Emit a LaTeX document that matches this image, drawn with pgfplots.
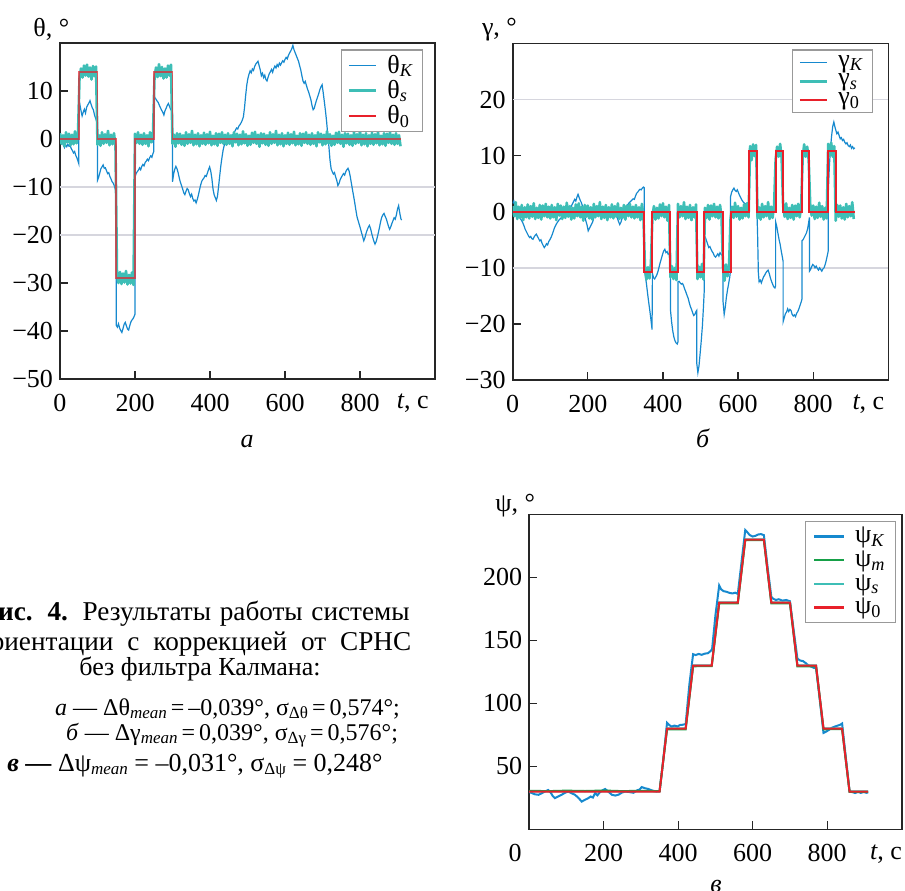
\documentclass[border=0pt]{standalone}
\usepackage{fontspec}
\setmainfont{Liberation Serif}
\usepackage{pgfplots}
\pgfplotsset{compat=1.18}

\definecolor{cblue}{RGB}{22,137,206}
\definecolor{cteal}{RGB}{62,190,182}
\definecolor{cred}{RGB}{232,32,42}
\definecolor{cgreen}{RGB}{22,160,72}
\definecolor{cgrid}{RGB}{214,214,222}
\newcommand\fs{\fontsize{13}{15}\selectfont}
\newcommand\tlab{\textit{t}, с}
\newcommand\sub[1]{\raisebox{-1.6pt}{\fontsize{8.5}{9}\selectfont #1}}

\pgfplotsset{
  panel/.style={
    scale only axis, anchor=south west, clip mode=individual, no marks,
    xmin=0, xmax=1000,
    axis line style={black!85, line width=0.8pt},
    tick align=inside, tick pos=left,
    major tick length=4pt,
    tick style={black!85, line width=0.6pt},
    tick label style={font=\fs},
    xticklabel style={yshift=-4pt},
    xtick={0,200,400,600,800},
    xticklabels={0,200,400,600,800},
    legend cell align=left,
    legend style={draw=black!40, line width=0.6pt, fill=white, font=\fs,
      inner xsep=3pt, inner ysep=1pt, row sep=-1pt, nodes={inner sep=1.5pt},
      /tikz/every odd column/.append style={column sep=3.5pt}},
    legend image code/.code={\draw[##1] (0pt,0pt) -- (13.5pt,0pt);},
  },
  noise/.style={cteal, line width=1.3pt, line join=round, forget plot},
}

\begin{document}
\begin{tikzpicture}[font=\fs]
\useasboundingbox (0,0) rectangle (452.5pt,-445pt);
\clip (0,0) rectangle (452.5pt,-445pt);

% ---------- a: theta ----------
\begin{axis}[panel, at={(30pt,-189.5pt)}, width=187.5pt, height=168pt,
  ymin=-50, ymax=20, ytick={-50,-40,-30,-20,-10,0,10},
  yticklabels={−50,−40,−30,−20,−10,0,10},
  extra x ticks={941}, extra x tick labels={\tlab},
  extra x tick style={major tick length=0pt},
  extra y ticks={-20,-10}, extra y tick labels={},
  extra y tick style={grid=major, major tick length=0pt, major grid style={cgrid, line width=0.8pt}},
  legend style={at={(0.969,0.981)}, anchor=north east}]
\addlegendimage{cblue, line width=0.5pt}\addlegendentry{θ\textsubscript{\textit{K}}}
\addlegendimage{cteal, line width=1.4pt}\addlegendentry{θ\textsubscript{\textit{s}}}
\addlegendimage{cred, line width=1pt}\addlegendentry{θ\textsubscript{0}}
\addplot[cblue, line width=0.6pt, forget plot] coordinates {
(0,-0.5)(3,-0.9)(6,-0.6)(9,-1.3)(12,-1.8)(15,-1.2)(18,-1.6)(21,-1.1)(24,-1.5)(27,-1.3)(30,-2.0)(33,-2.4)(36,-2.9)(39,-2.6)(42,-3.4)(45,-3.9)(48,-4.6)(50,-5.1)
(50,8.4)(53,7.2)(56,5.9)(59,4.8)(62,5.6)(65,6.2)(68,5.4)(71,6.6)(74,7.1)(77,7.5)(80,8.0)(83,7.2)(86,6.5)(89,6.1)(92,5.0)(95,4.3)(98,3.7)(100,3.5)
(100,-8.6)(103,-8.0)(106,-7.1)(109,-6.2)(112,-5.8)(115,-5.4)(118,-6.1)(121,-6.0)(124,-6.6)(127,-7.2)(130,-7.0)(133,-7.8)(136,-8.3)(139,-8.9)(142,-9.2)(145,-9.8)(148,-10.6)(150,-11.3)
(150,-38.8)(153,-39.2)(156,-38.5)(159,-39.4)(162,-39.9)(165,-40.3)(168,-39.5)(171,-38.6)(174,-38.2)(177,-38.9)(180,-39.6)(183,-39.8)(186,-38.9)(189,-38.1)(192,-37.7)(195,-37.4)(198,-36.9)(200,-36.5)
(200,-7.9)(203,-7.2)(206,-6.8)(209,-6.5)(212,-6.0)(215,-6.4)(218,-5.7)(221,-5.3)(224,-5.6)(227,-4.9)(230,-4.6)(233,-4.2)(236,-4.5)(239,-3.9)(242,-3.5)(245,-3.8)(248,-3.0)(250,-2.6)
(250,9.2)(253,8.6)(256,8.3)(259,7.9)(262,7.6)(265,7.0)(268,6.5)(271,6.0)(274,5.6)(277,5.0)(280,5.9)(283,6.4)(286,7.0)(289,7.4)(292,6.8)(295,6.2)(298,5.8)(300,5.4)
(300,-8.9)(303,-7.3)(306,-6.3)(309,-5.7)(312,-6.2)(315,-7.0)(318,-8.1)(321,-9.0)(324,-9.7)(327,-10.4)(330,-11.2)(333,-11.6)(336,-10.9)(339,-10.3)(342,-10.6)(345,-11.4)(348,-12.0)(351,-11.5)(354,-12.4)(357,-12.9)(360,-12.7)(363,-13.3)(366,-12.6)(369,-11.7)(372,-10.6)(375,-9.6)(378,-8.8)(381,-8.4)(384,-8.1)(387,-7.6)(390,-7.8)(393,-7.1)(396,-6.4)(399,-5.8)
(402,-6.7)(405,-8.2)(408,-10.4)(411,-11.6)(414,-12.2)(417,-12.8)(420,-11.9)(423,-9.8)(426,-7.6)(429,-5.5)(432,-3.8)(435,-2.3)(438,-1.3)(441,-0.9)(444,-0.6)(447,-0.3)(450,0.1)(453,-0.1)(456,0.4)(459,0.7)(462,1.0)(465,1.4)(468,1.9)(471,2.3)(474,2.1)(477,2.7)(480,3.0)(483,3.4)(486,3.9)(489,4.6)(492,6.5)(495,9.0)(498,11.2)
(501,12.6)(504,13.5)(507,14.2)(510,13.8)(513,14.6)(516,14.3)(519,15.1)(522,15.6)(525,15.9)(528,16.2)(531,15.3)(534,14.4)(537,13.2)(540,13.7)(543,12.8)(546,13.3)(549,12.4)(552,12.1)(555,12.9)(558,13.6)(561,14.0)(564,14.5)(567,13.9)(570,14.7)(573,15.2)(576,14.8)(579,15.5)(582,15.1)(585,15.8)(588,15.4)(591,15.9)(594,16.3)(597,16.0)
(600,16.6)(603,17.0)(606,16.7)(609,17.4)(612,17.9)(615,18.3)(618,18.8)(621,19.5)(624,18.6)(627,18.0)(630,17.4)(633,16.8)(636,16.2)(639,15.3)(642,14.4)(645,13.2)(648,12.1)(651,11.6)(654,12.0)(657,11.2)(660,10.4)(663,9.8)(666,9.0)(669,8.2)(672,7.0)(675,6.1)(678,6.4)(681,7.3)(684,8.1)(687,8.8)(690,9.5)(693,10.3)(696,10.9)(699,11.3)
(702,9.6)(705,7.7)(708,5.8)(711,3.6)(714,0.9)(717,-1.5)(720,-4.4)(723,-6.2)(726,-6.8)(729,-7.3)(732,-7.0)(735,-7.9)(738,-8.6)(741,-9.7)(744,-9.3)(747,-8.5)(750,-8.0)(753,-7.6)(756,-7.2)(759,-7.5)(762,-6.8)(765,-6.4)(768,-6.1)(771,-6.7)(774,-7.8)(777,-9.2)(780,-10.6)(783,-11.9)(786,-13.3)(789,-14.8)(792,-16.2)(795,-17.0)(798,-17.8)
(801,-18.6)(804,-19.5)(807,-20.3)(810,-21.2)(813,-20.6)(816,-19.7)(819,-19.0)(822,-18.4)(825,-18.0)(828,-18.6)(831,-19.6)(834,-20.5)(837,-21.3)(840,-21.9)(843,-21.4)(846,-20.5)(849,-19.5)(852,-18.4)(855,-17.2)(858,-16.3)(861,-15.8)(864,-15.5)(867,-16.1)(870,-16.6)(873,-17.4)(876,-18.2)(879,-18.8)(882,-18.3)(885,-17.6)(888,-17.0)(891,-16.4)(894,-16.7)(897,-15.8)(900,-14.6)(903,-13.9)(906,-15.4)(909,-16.6)(911,-16.9)
};
\addplot[noise] coordinates {
(0,1.2)(4,-1.0)(8,0.8)(12,-1.5)(16,1.4)(20,-0.7)(24,1.1)(28,-1.3)(32,0.9)(36,-1.1)(40,1.6)(44,-0.9)(48,1.0)
(52,12.6)(56,14.7)(60,12.8)(64,15.3)(68,13.2)(72,15.5)(76,13.0)(80,14.9)(84,12.4)(88,15.2)(92,13.1)(96,15.1)
(100,-1.2)(104,0.8)(108,-1.4)(112,1.4)(116,-1.0)(120,1.0)(124,-0.8)(128,1.7)(132,-1.3)(136,0.9)(140,-1.1)(144,1.2)(148,-1.5)
(152,-28.2)(156,-30.0)(160,-27.7)(164,-30.2)(168,-28.0)(172,-29.9)(176,-27.5)(180,-30.3)(184,-28.3)(188,-30.1)(192,-27.8)(196,-30.4)
(200,1.1)(204,-0.8)(208,1.4)(212,-1.0)(216,0.9)(220,-1.2)(224,1.2)(228,-1.0)(232,0.8)(236,-1.5)(240,1.4)(244,-0.7)(248,1.1)
(252,12.7)(256,14.9)(260,12.9)(264,15.6)(268,13.1)(272,15.0)(276,12.6)(280,14.7)(284,12.8)(288,15.3)(292,13.2)(296,15.5)
(300,-1.0)(304,0.9)(308,-1.6)(312,1.2)(316,-0.9)(320,1.1)(324,-1.2)(328,0.8)(332,-1.4)(336,1.4)(340,-1.0)(344,1.0)(348,-0.8)(352,1.7)(356,-1.3)(360,0.9)(364,-1.1)(368,1.2)(372,-1.5)(376,0.8)(380,-1.0)(384,1.3)(388,-1.2)(392,1.0)(396,-0.9)(400,1.5)(404,-1.3)(408,0.7)(412,-1.1)(416,1.2)(420,-1.4)(424,1.1)(428,-0.8)(432,1.4)(436,-1.0)(440,0.9)(444,-1.2)
(448,1.2)(452,-1.0)(456,0.8)(460,-1.5)(464,1.4)(468,-0.7)(472,1.1)(476,-1.3)(480,0.9)(484,-1.1)(488,1.6)(492,-0.9)(496,1.0)(500,-1.4)(504,0.7)(508,-1.2)(512,1.3)(516,-0.8)(520,1.5)(524,-1.0)(528,0.9)(532,-1.6)(536,1.2)(540,-0.9)(544,1.1)(548,-1.2)(552,0.8)(556,-1.4)(560,1.4)(564,-1.0)(568,1.0)(572,-0.8)(576,1.7)(580,-1.3)(584,0.9)(588,-1.1)(592,1.2)(596,-1.5)(600,0.8)(604,-1.0)(608,1.3)(612,-1.2)(616,1.0)(620,-0.9)(624,1.5)(628,-1.3)(632,0.7)(636,-1.1)(640,1.2)(644,-1.4)(648,1.1)(652,-0.8)(656,1.4)(660,-1.0)(664,0.9)(668,-1.2)
(672,1.2)(676,-1.0)(680,0.8)(684,-1.5)(688,1.4)(692,-0.7)(696,1.1)(700,-1.3)(704,0.9)(708,-1.1)(712,1.6)(716,-0.9)(720,1.0)(724,-1.4)(728,0.7)(732,-1.2)(736,1.3)(740,-0.8)(744,1.5)(748,-1.0)(752,0.9)(756,-1.6)(760,1.2)(764,-0.9)(768,1.1)(772,-1.2)(776,0.8)(780,-1.4)(784,1.4)(788,-1.0)(792,1.0)(796,-0.8)(800,1.7)(804,-1.3)(808,0.9)(812,-1.1)(816,1.2)(820,-1.5)(824,0.8)(828,-1.0)(832,1.3)(836,-1.2)(840,1.0)(844,-0.9)(848,1.5)(852,-1.3)(856,0.7)(860,-1.1)(864,1.2)(868,-1.4)(872,1.1)(876,-0.8)(880,1.4)(884,-1.0)(888,0.9)(892,-1.2)
(896,1.2)(900,-1.0)(904,0.8)(908,-1.5)
};
\addplot[cred, line width=0.8pt, opacity=0.7, forget plot] coordinates {
(0,0)(50,0)(50,14)(100,14)(100,0)(150,0)(150,-29)(200,-29)(200,0)(250,0)(250,14)(300,14)(300,0)(910,0)
};
\end{axis}

% ---------- b: gamma ----------
\begin{axis}[panel, at={(256.35pt,-190pt)}, width=187.8pt, height=168.3pt,
  ymin=-30, ymax=30, ytick={-30,-20,-10,0,10,20},
  yticklabels={−30,−20,−10,0,10,20},
  extra x ticks={947}, extra x tick labels={\tlab},
  extra x tick style={major tick length=0pt},
  extra y ticks={-10,20}, extra y tick labels={},
  extra y tick style={grid=major, major tick length=0pt, major grid style={cgrid, line width=0.8pt}},
  legend style={at={(0.96,0.982)}, anchor=north east}]
\addlegendimage{cblue, line width=0.5pt}\addlegendentry{γ\textsubscript{\textit{K}}}
\addlegendimage{cteal, line width=1.4pt}\addlegendentry{γ\textsubscript{\textit{s}}}
\addlegendimage{cred, line width=1pt}\addlegendentry{γ\textsubscript{0}}
\addplot[cblue, line width=0.6pt, forget plot] coordinates {
(0,1.5)(3,1.9)(6,1.0)(9,0.6)(12,0.1)(15,-0.5)(18,-0.9)(21,-1.3)(24,-1.6)(27,-2.0)(30,-2.5)(33,-3.1)(36,-3.5)(39,-3.9)(42,-4.3)(45,-4.6)(48,-4.4)(51,-4.8)(54,-4.9)(57,-4.5)(60,-4.2)(63,-4.0)(66,-4.4)(69,-4.8)(72,-5.2)(75,-5.0)(78,-5.6)(81,-6.0)(84,-6.4)(87,-6.1)(90,-5.7)(93,-5.9)(96,-5.3)(99,-5.0)
(102,-4.6)(105,-4.1)(108,-3.5)(111,-2.9)(114,-2.5)(117,-2.1)(120,-1.8)(123,-1.5)(126,-1.3)(129,-1.1)(132,-0.9)(135,-1.0)(138,-0.7)(141,-0.8)(144,-0.4)(147,-0.1)(150,0.3)(153,0.6)(156,1.0)(159,1.4)(162,1.8)(165,2.2)(168,1.9)(171,2.6)(174,3.1)(177,2.5)(180,2.0)(183,1.6)(186,1.0)(189,0.2)(192,-0.9)(195,-1.7)(198,-2.4)
(201,-3.4)(204,-3.0)(207,-2.6)(210,-2.2)(213,-1.8)(216,-1.1)(219,-0.4)(222,-0.2)(225,-0.6)(228,-0.3)(231,-0.5)(234,-0.8)(237,-0.4)(240,-0.2)(243,0.2)(246,0.5)(249,0.8)(252,0.6)(255,0.7)(258,0.3)(261,0.1)(264,-0.2)(267,-0.4)(270,-0.3)(273,-0.2)(276,-0.6)(279,-1.2)(282,-1.8)(285,-2.3)(288,-1.9)(291,-1.2)(294,-0.5)(297,-0.2)
(300,0.3)(303,0.8)(306,1.2)(309,1.5)(312,1.7)(315,1.9)(318,2.1)(321,2.3)(324,2.2)(327,2.8)(330,3.3)(333,3.5)(336,3.8)(339,4.0)(342,3.9)(345,4.2)(348,4.4)(350,4.3)
(350,-10.0)(353,-11.4)(356,-12.8)(359,-14.5)(362,-16.1)(365,-17.6)(368,-19.2)(371,-21.0)(372,-11.0)
(375,-11.8)(378,-12.0)(381,-11.6)(384,-11.2)(387,-10.6)(390,-9.8)(393,-9.0)(396,-8.3)(399,-7.6)(402,-7.0)(405,-6.7)(408,-7.3)(411,-7.1)(414,-7.6)(417,-7.4)(420,-7.8)
(420,-17.5)(423,-19.6)(426,-21.2)(429,-22.3)(432,-23.0)(435,-23.4)(438,-23.6)(440,-23.2)
(440,-12.5)(443,-12.4)(446,-12.7)(449,-12.9)(452,-12.8)(455,-13.2)(458,-13.8)(461,-14.3)(464,-14.9)(467,-15.4)(470,-16.2)(473,-16.9)(476,-17.4)(479,-18.0)(482,-18.5)(485,-18.3)(488,-17.8)(490,-17.6)
(490,-27.0)(493,-28.7)(496,-27.5)(499,-25.3)(502,-23.0)(505,-20.4)(508,-16.8)(510,-14.0)
(510,-4.3)(513,-4.6)(516,-5.2)(519,-5.8)(522,-6.4)(525,-6.2)(528,-6.7)(531,-7.1)(534,-7.4)(537,-7.9)(540,-8.1)(543,-7.8)(546,-7.5)(549,-7.9)(552,-7.3)(555,-7.6)(558,-7.8)(560,-8.2)
(560,-16.0)(563,-18.3)(566,-17.0)(569,-15.2)(572,-13.9)(575,-12.8)(578,-11.6)(580,-10.4)
(580,2.7)(583,3.5)(586,3.9)(589,4.2)(592,3.8)(595,3.6)(598,3.9)(601,3.4)(604,2.9)(607,2.5)(610,2.1)(613,1.8)(616,1.6)(619,1.3)(622,1.5)(625,1.2)(628,1.0)(630,1.4)
(630,8.5)(633,10.0)(636,10.6)(639,10.3)(642,10.8)(645,10.5)(648,10.9)(650,10.4)
(650,0.6)(652,-4.0)(654,-10.8)(656,-12.5)(659,-12.2)(662,-12.7)(665,-12.1)(668,-11.6)(671,-11.3)(674,-10.9)(677,-10.6)(680,-10.4)(683,-11.0)(686,-11.8)(689,-12.4)(692,-12.9)(695,-13.4)(698,-13.6)(700,-13.2)
(700,-1.8)(703,-2.6)(706,-3.8)(709,-4.9)(712,-5.8)(715,-7.0)(718,-8.1)(720,-8.9)
(720,-19.6)(723,-18.9)(726,-18.2)(729,-17.9)(732,-17.3)(735,-17.8)(738,-17.4)(741,-17.6)(744,-18.3)(747,-18.6)(750,-18.4)(753,-18.7)(756,-18.1)(759,-17.8)(762,-17.3)(765,-16.7)(768,-16.1)(770,-15.6)
(770,-5.2)(773,-5.0)(776,-4.6)(779,-4.2)(782,-3.8)(785,-3.1)(788,-1.9)(790,-1.0)
(790,-10.6)(793,-10.3)(796,-9.8)(799,-9.4)(802,-9.6)(805,-10.0)(808,-9.7)(811,-10.1)(814,-10.4)(817,-10.0)(820,-10.3)(823,-10.6)(826,-10.2)(829,-10.0)(832,-9.4)(835,-8.6)(838,-7.7)(840,-7.0)
(840,3.0)(843,8.0)(846,11.2)(849,13.5)(852,15.2)(855,16.0)(858,15.1)(860,14.6)
(863,13.9)(866,14.2)(869,13.6)(872,13.0)(875,13.2)(878,12.7)(881,12.9)(884,12.4)(887,12.1)(890,12.3)(893,11.8)(896,11.6)(899,11.9)(902,11.3)(905,11.6)(908,11.2)(911,11.4)
};
\addplot[noise] coordinates {
(0,1.0)(4,-0.8)(8,1.7)(12,-1.3)(16,0.9)(20,-1.1)(24,1.2)(28,-1.5)(32,0.8)(36,-1.0)(40,1.3)(44,-1.2)(48,1.0)(52,-0.9)(56,1.5)(60,-1.3)(64,0.7)(68,-1.1)(72,1.2)(76,-1.4)(80,1.1)(84,-0.8)(88,1.4)(92,-1.0)(96,0.9)(100,-1.2)
(104,1.2)(108,-1.0)(112,0.8)(116,-1.5)(120,1.4)(124,-0.7)(128,1.1)(132,-1.3)(136,0.9)(140,-1.1)(144,1.6)(148,-0.9)(152,1.0)(156,-1.4)(160,0.7)(164,-1.2)(168,1.3)(172,-0.8)(176,1.5)(180,-1.0)(184,0.9)(188,-1.6)(192,1.2)(196,-0.9)(200,1.1)(204,-1.2)(208,0.8)(212,-1.4)(216,1.4)(220,-1.0)(224,1.0)(228,-0.8)(232,1.7)(236,-1.3)(240,0.9)(244,-1.1)(248,1.2)(252,-1.5)(256,0.8)(260,-1.0)(264,1.3)(268,-1.2)(272,1.0)(276,-0.9)(280,1.5)(284,-1.3)(288,0.7)(292,-1.1)(296,1.2)(300,-1.4)(304,1.1)(308,-0.8)(312,1.4)(316,-1.0)(320,0.9)(324,-1.2)
(328,1.2)(332,-1.0)(336,0.8)(340,-1.5)(344,1.4)(348,-0.7)
(352,-9.7)(356,-12.1)(360,-9.9)(364,-11.9)(368,-9.2)
(372,-0.9)(376,1.0)(380,-1.4)(384,0.7)(388,-1.2)(392,1.3)(396,-0.8)(400,1.5)(404,-1.0)(408,0.9)(412,-1.6)(416,1.2)
(420,-11.7)(424,-9.7)(428,-12.0)(432,-10.0)(436,-12.2)
(440,1.4)(444,-1.0)(448,1.0)(452,-0.8)(456,1.7)(460,-1.3)(464,0.9)(468,-1.1)(472,1.2)(476,-1.5)(480,0.8)(484,-1.0)(488,1.3)
(492,-12.0)(496,-9.8)(500,-11.7)(504,-9.3)(508,-12.1)
(512,0.7)(516,-1.1)(520,1.2)(524,-1.4)(528,1.1)(532,-0.8)(536,1.4)(540,-1.0)(544,0.9)(548,-1.2)(552,1.2)(556,-1.0)
(560,-10.0)(564,-12.3)(568,-9.4)(572,-11.5)(576,-9.7)
(580,-1.3)(584,0.9)(588,-1.1)(592,1.6)(596,-0.9)(600,1.0)(604,-1.4)(608,0.7)(612,-1.2)(616,1.3)(620,-0.8)(624,1.5)(628,-1.0)
(632,11.7)(636,9.2)(640,12.0)(644,9.9)(648,11.9)
(652,-1.2)(656,0.8)(660,-1.4)(664,1.4)(668,-1.0)(672,1.0)(676,-0.8)(680,1.7)(684,-1.3)(688,0.9)(692,-1.1)(696,1.2)
(700,9.3)(704,11.6)(708,9.8)(712,12.1)(716,9.6)
(720,1.0)(724,-0.9)(728,1.5)(732,-1.3)(736,0.7)(740,-1.1)(744,1.2)(748,-1.4)(752,1.1)(756,-0.8)(760,1.4)(764,-1.0)(768,0.9)
(772,9.6)(776,12.0)(780,9.8)(784,11.6)(788,9.3)
(792,1.4)(796,-0.7)(800,1.1)(804,-1.3)(808,0.9)(812,-1.1)(816,1.6)(820,-0.9)(824,1.0)(828,-1.4)(832,0.7)(836,-1.2)
(840,12.1)(844,10.0)(848,12.3)(852,9.8)(856,11.7)
(860,-1.6)(864,1.2)(868,-0.9)(872,1.1)(876,-1.2)(880,0.8)(884,-1.4)(888,1.4)(892,-1.0)(896,1.0)(900,-0.8)(904,1.7)(908,-1.3)
};
\addplot[cred, line width=1pt, forget plot] coordinates {
(0,0)(350,0)(350,-10.8)(370,-10.8)(370,0)(420,0)(420,-10.8)(440,-10.8)(440,0)(490,0)(490,-10.8)(510,-10.8)(510,0)(560,0)(560,-10.8)(580,-10.8)(580,0)(630,0)
(630,10.8)(650,10.8)(650,0)(700,0)(700,10.8)(720,10.8)(720,0)(770,0)(770,10.8)(790,10.8)(790,0)(840,0)(840,10.8)(860,10.8)(860,0)(910,0)
};
\end{axis}

% ---------- v: psi ----------
\begin{axis}[panel, at={(264.6pt,-414.65pt)}, width=186.25pt, height=157.5pt,
  ymin=0, ymax=250, ytick={50,100,150,200},
  yticklabels={50,100,150,200},
  xtick={200,400,600,800}, xticklabels={200,400,600,800},
  extra x ticks={958}, extra x tick labels={\tlab},
  extra x tick style={major tick length=0pt},
  legend style={at={(0.985,0.98)}, anchor=north east, inner xsep=3.5pt, inner ysep=1.5pt, row sep=-0.5pt},
  legend image code/.code={\draw[#1] (0pt,0pt) -- (15pt,0pt);}]
\addlegendimage{cblue, line width=1.1pt}\addlegendentry{ψ\textsubscript{\textit{K}}}
\addlegendimage{cgreen, line width=1.1pt}\addlegendentry{ψ\textsubscript{\textit{m}}}
\addlegendimage{cteal, line width=1.1pt}\addlegendentry{ψ\textsubscript{\textit{s}}}
\addlegendimage{cred, line width=1.1pt}\addlegendentry{ψ\textsubscript{0}}
\addplot[cblue, line width=1pt, forget plot] coordinates {
(0,29.5)(7,28.8)(15,27.8)(25,27.4)(33,28.5)(42,30.0)(51,31.2)(58,29.0)(63,26.5)(69,24.8)(76,25.8)(87,27.4)(96,29.0)(105,30.0)(114,28.6)(123,27.4)(132,25.0)(141,22.0)(150,23.5)(159,24.8)(165,26.0)(171,25.2)(177,28.8)(183,27.0)(190,29.5)(197,31.0)(204,32.0)(212,30.0)(222,27.4)(231,26.8)(240,27.5)(248,29.0)(257,30.0)(268,29.6)(280,29.0)(290,31.0)(296,31.5)(302,33.5)(311,32.6)(320,32.0)(330,30.8)(342,30.0)(350,30.2)
(358,50.0)(365,70.0)(370,84.5)(375,83.0)(382,81.5)(390,82.3)(398,81.6)(405,82.8)(412,83.0)(420,83.5)
(430,115.0)(440,139.0)(447,138.3)(455,139.2)(463,138.5)(471,139.4)(480,139.8)(487,141.5)(491,143.0)
(500,170.0)(510,193.5)(515,190.5)(522,189.0)(530,188.5)(538,187.6)(546,187.2)(553,187.8)(560,186.8)
(570,212.0)(580,237.5)(585,236.0)(592,233.5)(600,232.4)(608,233.0)(615,234.0)(622,234.3)(630,233.5)
(640,208.0)(650,184.5)(655,183.0)(662,182.0)(670,182.6)(680,181.5)(690,182.0)(700,181.0)
(710,158.0)(720,135.5)(727,134.0)(735,133.5)(742,132.0)(750,130.0)(758,129.0)(765,128.0)(770,128.5)
(780,103.0)(790,76.5)(797,77.5)(805,79.0)(812,80.5)(820,81.5)(828,82.3)(835,83.0)(840,84.0)
(850,57.0)(860,30.0)(868,29.5)(875,28.8)(883,29.7)(890,28.9)(898,29.6)(905,29.0)(910,29.3)
};
\addplot[cteal, line width=1pt, forget plot] coordinates {
(0,30.2)(350,30.2)(370,80.2)(420,80.2)(440,130.2)(490,130.2)(510,180.2)(560,180.2)(580,230.2)(630,230.2)(650,180.2)(700,180.2)(720,130.2)(770,130.2)(790,80.2)(840,80.2)(860,30.2)(910,30.2)
};
\addplot[cgreen, line width=1pt, forget plot] coordinates {
(0,30.6)(50,30.3)(100,30.7)(150,30.4)(200,30.8)(250,30.3)(300,30.6)(350,30.3)(370,79.4)(420,79.3)(440,129.4)(490,129.5)(510,179.4)(560,179.4)(580,229.5)(630,229.5)(650,179.3)(700,179.4)(720,129.3)(770,129.4)(790,79.4)(840,79.5)(860,29.7)(910,29.8)
};
\addplot[cred, line width=1pt, forget plot] coordinates {
(0,30)(350,30)(370,80)(420,80)(440,130)(490,130)(510,180)(560,180)(580,230)(630,230)(650,180)(700,180)(720,130)(770,130)(790,80)(840,80)(860,30)(910,30)
};
\node[anchor=north, font=\fs, yshift=-4pt] at (axis cs:-38,0) {0};
\end{axis}

% ---------- titles and labels ----------
\node[anchor=base west, inner sep=0pt] at (16.5pt,-18.25pt) {θ, °};
\node[anchor=base west, inner sep=0pt] at (240.8pt,-17.5pt) {γ, °};
\node[anchor=base west, inner sep=0pt] at (247.5pt,-255.5pt) {ψ, °};
\node[anchor=base, inner sep=0pt] at (123.5pt,-223.5pt) {\textit{а}};
\node[anchor=base, inner sep=0pt] at (351.5pt,-223.5pt) {\textit{б}};
\node[anchor=base, inner sep=0pt] at (358pt,-446pt) {\textit{в}};

% ---------- caption ----------
\node[anchor=base east, inner sep=0pt, font=\fontsize{13.6}{15}\selectfont] at (205pt,-310pt) {\makebox[214pt][s]{\textbf{Рис. 4.} Результаты работы системы}};
\node[anchor=base east, inner sep=0pt, font=\fontsize{13.6}{15}\selectfont] at (205.8pt,-325pt) {\makebox[217pt][s]{ориентации с коррекцией от СРНС}};
\node[anchor=base, inner sep=0pt] at (100pt,-337.5pt) {без фильтра Калмана:};
\node[anchor=base, inner sep=0pt, font=\fontsize{12}{14}\selectfont] at (113.75pt,-357.5pt) {\textit{а} — Δθ\sub{\textit{mean}}\,=\,–0,039°, σ\sub{Δθ}\,=\,0,574°;};
\node[anchor=base, inner sep=0pt, font=\fontsize{12}{14}\selectfont] at (116pt,-370pt) {\textit{б} — Δγ\sub{\textit{mean}}\,=\,0,039°, σ\sub{Δγ}\,=\,0,576°;};
\node[anchor=base east, inner sep=0pt] at (191.5pt,-385.8pt) {\textbf{\textit{в} —} Δψ\sub{\textit{mean}} = –0,031°, σ\sub{Δψ} = 0,248°};
\end{tikzpicture}
\end{document}
